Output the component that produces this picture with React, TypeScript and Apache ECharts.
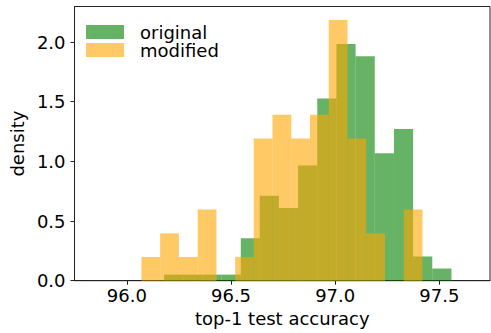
import React, { useEffect, useRef } from "react";
import * as echarts from "echarts";

// Histogram bin edges (top-1 test accuracy) and densities
const originalEdges = [96.179, 96.271, 96.363, 96.455, 96.547, 96.638, 96.73, 96.822, 96.914, 97.006, 97.098, 97.19, 97.282, 97.374, 97.466, 97.558];
const originalDensity = [0.051, 0.051, 0.051, 0.051, 0.356, 0.712, 0.61, 0.966, 1.526, 1.984, 1.882, 1.068, 1.272, 0.203, 0.102];

const modifiedEdges = [96.07, 96.16, 96.25, 96.34, 96.43, 96.52, 96.609, 96.699, 96.789, 96.879, 96.969, 97.059, 97.149, 97.239, 97.329, 97.419];
const modifiedDensity = [0.199, 0.397, 0.199, 0.596, 0, 0.199, 1.192, 1.39, 1.192, 1.39, 2.185, 1.192, 0.397, 0, 0.596];

const xTicks = [96.0, 96.5, 97.0, 97.5];
const yTicks = [0, 0.5, 1.0, 1.5, 2.0];

const seriesNames = ["original", "modified"];
const GREEN = "rgba(0,128,0,0.6)";
const ORANGE = "rgba(255,165,0,0.6)";
const FONT = "DejaVu Sans";

function toBins(edges: number[], dens: number[]) {
  return dens.map((d, i) => [edges[i], edges[i + 1], d]);
}

function makeSeries(name: string, edges: number[], dens: number[], color: string) {
  return {
    type: "custom",
    name,
    itemStyle: { color },
    encode: { x: [0, 1], y: 2 },
    data: toBins(edges, dens),
    renderItem: (params: any, api: any) => {
      const x0 = api.value(0);
      const x1 = api.value(1);
      const h = api.value(2);
      if (!h) return null;
      const p0 = api.coord([x0, h]);
      const p1 = api.coord([x1, 0]);
      return {
        type: "rect",
        shape: { x: p0[0], y: p0[1], width: p1[0] - p0[0], height: p1[1] - p0[1] },
        style: { fill: color },
      };
    },
  };
}

export default function App() {
  const ref = useRef<HTMLDivElement>(null);
  useEffect(() => {
    if (!ref.current) return;
    const chart = echarts.init(ref.current, undefined, { renderer: "svg" });
    chart.setOption({
      animation: false,
      textStyle: { fontFamily: FONT },
      grid: {
        left: 69,
        right: 1,
        top: 6.5,
        bottom: 52.3,
        show: true,
        borderColor: "#222",
        borderWidth: 1,
        backgroundColor: "transparent",
      },
      legend: {
        orient: "vertical",
        left: 86,
        top: 23,
        padding: 0,
        itemWidth: 38,
        itemHeight: 14,
        itemGap: 0,
        icon: "rect",
        data: seriesNames,
        textStyle: {
          fontSize: 18,
          lineHeight: 18,
          fontFamily: FONT,
          color: "#000",
          padding: [0, 0, 0, 11],
        },
      },
      xAxis: {
        type: "value",
        min: 95.749,
        max: 97.743,
        name: "top-1 test accuracy",
        nameLocation: "middle",
        nameGap: 29,
        nameTextStyle: { fontSize: 18, fontFamily: FONT, color: "#000" },
        splitLine: { show: false },
        axisLine: { show: true, onZero: false, lineStyle: { color: "#222", width: 1 } },
        axisTick: { show: true, length: 4, inside: false, customValues: xTicks, lineStyle: { color: "#222" } },
        axisLabel: {
          customValues: xTicks,
          margin: 6,
          fontSize: 18,
          fontFamily: FONT,
          color: "#000",
          formatter: (v: number) => v.toFixed(1),
        },
      },
      yAxis: {
        type: "value",
        min: 0,
        max: 2.298,
        name: "density",
        nameLocation: "middle",
        nameGap: 45,
        nameTextStyle: { fontSize: 18, fontFamily: FONT, color: "#000" },
        splitLine: { show: false },
        axisLine: { show: true, lineStyle: { color: "#222", width: 1 } },
        axisTick: { show: true, length: 4, inside: false, customValues: yTicks, lineStyle: { color: "#222" } },
        axisLabel: {
          customValues: yTicks,
          margin: 9,
          fontSize: 18,
          fontFamily: FONT,
          color: "#000",
          formatter: (v: number) => v.toFixed(1),
        },
      },
      series: [
        makeSeries(seriesNames[0], originalEdges, originalDensity, GREEN),
        makeSeries(seriesNames[1], modifiedEdges, modifiedDensity, ORANGE),
      ],
    });
    return () => chart.dispose();
  }, []);
  return (
    <div
      ref={ref}
      style={{ position: "fixed", left: 0, top: 0, width: 491, height: 333, background: "#fff" }}
    />
  );
}
